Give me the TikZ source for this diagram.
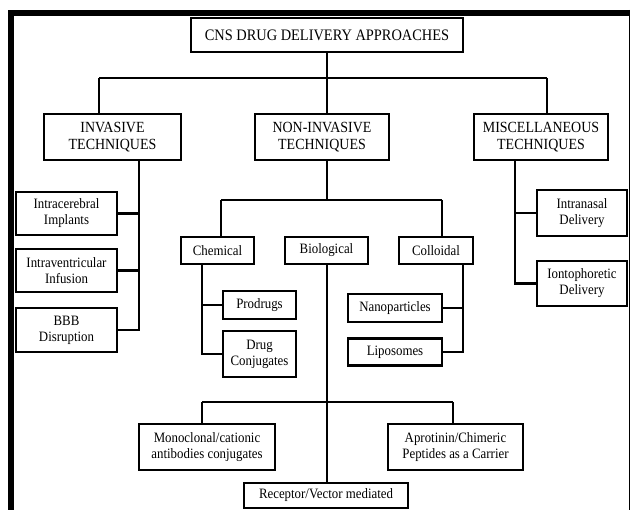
\documentclass[tikz,border=0pt]{standalone}
\usepackage{fontspec}
\setmainfont{Liberation Serif}[FakeStretch=0.9]
\usepackage{xcolor}
\usetikzlibrary{positioning}

\begin{document}
\begin{tikzpicture}[x=1pt, y=-1pt,
        box/.style={rectangle, draw=black, line width=2.8pt, fill=white, align=center, inner sep=2pt, font=\fontsize{14.3}{16}\selectfont},
        head/.style={box, font=\fontsize{15.5}{17}\selectfont},
        link/.style={line width=2.6pt}
    ]
            \path[use as bounding box, clip] (0,0) rectangle (631,510);

            % Frame
            \fill[black] (8,10) rectangle (630,16);
            \fill[black] (8,10) rectangle (14,510);
            \draw[line width=1.5pt] (629.5,10) -- (629.5,510);

            % Levels 0 and 1
            \node[head, minimum width=272pt, minimum height=34pt, font=\fontsize{16}{18}\selectfont] (cns) at (327,35) {CNS DRUG DELIVERY APPROACHES};
            \node[head, minimum width=137pt, minimum height=46pt] (invasive) at (112.5,137) {INVASIVE\\TECHNIQUES};
            \node[head, minimum width=134pt, minimum height=46pt] (noninvasive) at (322,137) {NON-INVASIVE\\TECHNIQUES};
            \node[head, minimum width=134pt, minimum height=46pt] (misc) at (541,137) {MISCELLANEOUS\\TECHNIQUES};

            % Invasive branch
            \node[box, minimum width=101pt, minimum height=43pt] (implants) at (66.5,213.5) {Intracerebral\\Implants};
            \node[box, minimum width=101pt, minimum height=43pt] (infusion) at (66.5,270.5) {Intraventricular\\Infusion};
            \node[box, minimum width=101pt, minimum height=44pt] (bbb) at (66.5,330) {BBB\\Disruption};

            % Non-invasive branch
            \node[box, minimum width=73pt, minimum height=27pt] (chemical) at (217.5,250.5) {Chemical};
            \node[box, minimum width=83pt, minimum height=27pt] (biological) at (326.5,250.5) {Biological};
            \node[box, minimum width=74pt, minimum height=27pt] (colloidal) at (436,250.5) {Colloidal};
            \node[box, minimum width=73pt, minimum height=28pt] (prodrugs) at (259.5,305) {Prodrugs};
            \node[box, minimum width=73pt, minimum height=46pt] (conjugates) at (259.5,354) {Drug\\Conjugates};
            \node[box, minimum width=94pt, minimum height=28pt] (nano) at (395,308) {Nanoparticles};
            \node[box, minimum width=94pt, minimum height=27pt] (liposomes) at (395,352) {Liposomes};
            \node[box, minimum width=136pt, minimum height=46pt] (antibodies) at (207,447) {Monoclonal/cationic\\antibodies conjugates};
            \node[box, minimum width=135pt, minimum height=46pt] (aprotinin) at (455.5,447) {Aprotinin/Chimeric\\Peptides as a Carrier};
            \node[box, minimum width=164pt, minimum height=25pt] (receptor) at (326,495.5) {Receptor/Vector mediated};

            % Miscellaneous branch
            \node[box, minimum width=90pt, minimum height=46pt] (intranasal) at (582,213) {Intranasal\\Delivery};
            \node[box, minimum width=90pt, minimum height=45pt] (ionto) at (582,283.5) {Iontophoretic\\Delivery};

            % Junction points
            \coordinate (topL) at (99,78);
            \coordinate (topR) at (547,78);
            \coordinate (invT) at (139,330);
            \coordinate (midL) at (221,200);
            \coordinate (midR) at (442,200);
            \coordinate (chemT) at (202,354);
            \coordinate (collT) at (463,352);
            \coordinate (miscT) at (515,283.5);
            \coordinate (bioL) at (202,402);
            \coordinate (bioR) at (453,402);

            % Connectors
            \draw[link] (cns.south) -- (cns.south |- noninvasive.north);
            \draw[link] (topL) -- (topR);
            \draw[link] (topL) -- (topL |- invasive.north);
            \draw[link] (topR) -- (topR |- misc.north);

            \draw[link] (invasive.south -| invT) -- (invT) -- (bbb.east);
            \draw[link] (implants.east) -- (implants.east -| invT);
            \draw[link] (infusion.east) -- (infusion.east -| invT);

            \draw[link] (cns.south |- noninvasive.south) -- (cns.south |- midL);
            \draw[link] (midL) -- (midR);
            \draw[link] (midL) -- (midL |- chemical.north);
            \draw[link] (midR) -- (midR |- colloidal.north);

            \draw[link] (chemical.south -| chemT) -- (chemT) -- (conjugates.west);
            \draw[link] (prodrugs.west) -- (prodrugs.west -| chemT);
            \draw[link] (colloidal.south -| collT) -- (collT) -- (liposomes.east);
            \draw[link] (nano.east) -- (nano.east -| collT);

            \draw[link] (biological.south -| cns.south) -- (receptor.north -| cns.south);
            \draw[link] (bioL) -- (bioR);
            \draw[link] (bioL) -- (bioL |- antibodies.north);
            \draw[link] (bioR) -- (bioR |- aprotinin.north);

            \draw[link] (misc.south -| miscT) -- (miscT) -- (ionto.west);
            \draw[link] (intranasal.west) -- (intranasal.west -| miscT);
    \end{tikzpicture}
\end{document}
